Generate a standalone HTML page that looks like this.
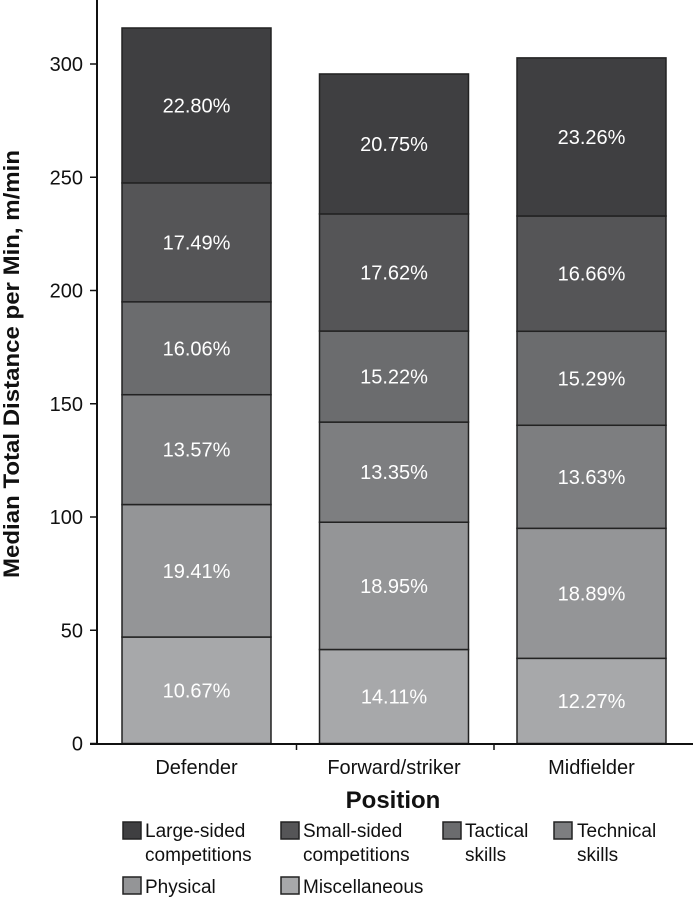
<!DOCTYPE html>
<html><head><meta charset="utf-8"><style>
body{margin:0;background:#fff;}
svg text{font-family:"Liberation Sans",Arial,sans-serif;}
</style></head><body>
<svg id="chart" width="693" height="898" viewBox="0 0 693 898"></svg>
<script>
const categories=["Defender","Forward/striker","Midfielder"];
const seriesNames=["Miscellaneous","Physical","Technical skills","Tactical skills","Small-sided competitions","Large-sided competitions"];
const miscVals=[47,41.5,37.6];
const physVals=[58.5,56.2,57.4];
const techVals=[48.5,44.2,45.5];
const tactVals=[41,40.2,41.5];
const smallVals=[52.5,51.7,50.9];
const largeVals=[68.4,61.8,69.8];
const miscPct=["10.67%","14.11%","12.27%"];
const physPct=["19.41%","18.95%","18.89%"];
const techPct=["13.57%","13.35%","13.63%"];
const tactPct=["16.06%","15.22%","15.29%"];
const smallPct=["17.49%","17.62%","16.66%"];
const largePct=["22.80%","20.75%","23.26%"];
const yTicks=[0,50,100,150,200,250,300];
const colors=["#a7a8aa","#949597","#7d7e80","#6b6c6e","#555557","#3f3f41"];
const NS="http://www.w3.org/2000/svg";
const svg=document.getElementById('chart');
const y0=743.5,pxPer=2.265;
function yS(v){return y0-v*pxPer;}
const barW=149,step=197.5,firstL=122;
function xS(i){return firstL+i*step;}
function mk(t,a,p){const e=document.createElementNS(NS,t);for(const k in a)e.setAttribute(k,a[k]);(p||svg).appendChild(e);return e;}
const series=[miscVals,physVals,techVals,tactVals,smallVals,largeVals];
const pcts=[miscPct,physPct,techPct,tactPct,smallPct,largePct];
categories.forEach((c,i)=>{
  let cum=0;
  series.forEach((s,j)=>{
    const v=s[i];
    const r=mk('rect',{x:xS(i),y:yS(cum+v),width:barW,height:v*pxPer,fill:colors[j],stroke:'#222','stroke-width':1.5});
    
    
    const t=mk('text',{x:xS(i)+barW/2,y:yS(cum+v/2)+7,'text-anchor':'middle','font-size':20,fill:'#fff'});
    t.textContent=pcts[j][i];
    
    
    cum+=v;
  });
  const xl=mk('text',{x:xS(i)+barW/2,y:774,'text-anchor':'middle','font-size':20,fill:'#111'});
  xl.textContent=c;
  
  
  if(i>0) mk('line',{x1:xS(i)-23,x2:xS(i)-23,y1:743,y2:750,stroke:'#111','stroke-width':1.5});
});
const ax=mk('line',{x1:97,x2:97,y1:0,y2:744,stroke:'#111','stroke-width':2});

const bx=mk('line',{x1:90,x2:693,y1:744,y2:744,stroke:'#111','stroke-width':2});

yTicks.forEach(v=>{
  mk('line',{x1:90,x2:97,y1:yS(v),y2:yS(v),stroke:'#111','stroke-width':1.5});
  const t=mk('text',{x:83,y:yS(v)+7,'text-anchor':'end','font-size':20,fill:'#111'});
  t.textContent=v;
  
  
});
</script>
<svg width="693" height="898" style="position:absolute;left:0;top:0">
<text transform="translate(19,364) rotate(-90)" text-anchor="middle" font-size="22" font-weight="bold" fill="#111" textLength="428" lengthAdjust="spacingAndGlyphs">Median Total Distance per Min, m/min</text>
<text x="393" y="808" text-anchor="middle" font-size="24" font-weight="bold" fill="#111">Position</text>
<g font-size="19" fill="#111">
<rect x="123" y="822" width="18" height="17" fill="#3f3f41" stroke="#222" stroke-width="1.5"/><text x="145" y="837">Large-sided</text><text x="145" y="861">competitions</text>
<rect x="281" y="822" width="18" height="17" fill="#555557" stroke="#222" stroke-width="1.5"/><text x="303" y="837">Small-sided</text><text x="303" y="861">competitions</text>
<rect x="443" y="822" width="18" height="17" fill="#6b6c6e" stroke="#222" stroke-width="1.5"/><text x="465" y="837">Tactical</text><text x="465" y="861">skills</text>
<rect x="554" y="822" width="18" height="17" fill="#7d7e80" stroke="#222" stroke-width="1.5"/><text x="577" y="837">Technical</text><text x="577" y="861">skills</text>
<rect x="123" y="877" width="18" height="17" fill="#949597" stroke="#222" stroke-width="1.5"/><text x="145" y="893">Physical</text>
<rect x="281" y="877" width="18" height="17" fill="#a7a8aa" stroke="#222" stroke-width="1.5"/><text x="303" y="893">Miscellaneous</text>
</g>
</svg>
</body></html>
